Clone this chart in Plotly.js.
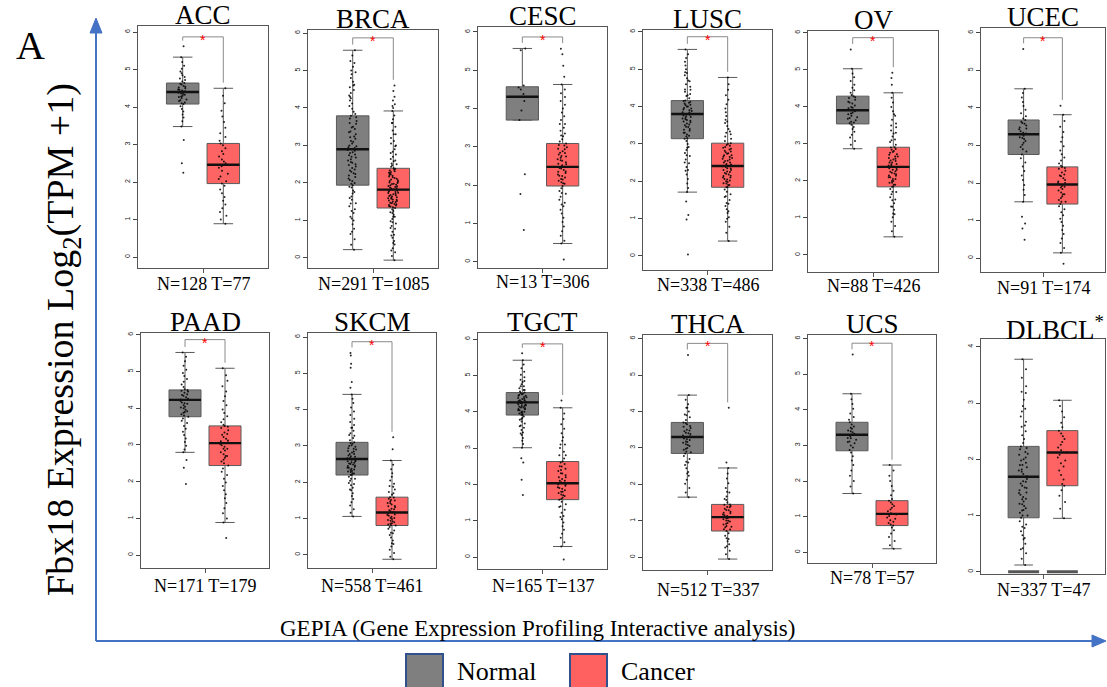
<!DOCTYPE html>
<html><head><meta charset="utf-8">
<script src="https://cdn.plot.ly/plotly-3.0.1.min.js"></script>
<style>html,body{margin:0;padding:0;background:#fff}#chart{width:1107px;height:687px}</style>
</head><body><div id="chart"></div>
<script>
// ---------------- DATA ----------------
const cancers = ['ACC','BRCA','CESC','LUSC','OV','UCEC','PAAD','SKCM','TGCT','THCA','UCS','DLBCL'];
const normalCounts = [128,291,13,338,88,91,171,558,165,512,78,337];
const tumorCounts  = [77,1085,306,486,426,174,179,461,137,337,57,47];
const significant  = [true,true,true,true,true,true,true,true,true,true,true,false];

const normalQ1     = [4.08,1.94,3.70,3.14,3.54,2.76,3.77,2.20,3.91,2.85,2.85,0.96];
const normalMedian = [4.40,2.90,4.31,3.80,3.91,3.30,4.23,2.64,4.26,3.30,3.30,1.69];
const normalQ3     = [4.64,3.79,4.57,4.16,4.29,3.68,4.50,3.10,4.53,3.70,3.65,2.23];
const normalLower  = [3.48,0.22,3.70,1.71,2.87,1.50,2.80,1.06,3.01,1.65,1.65,0.12];
const normalUpper  = [5.33,5.54,5.57,5.53,5.03,4.51,5.52,4.42,5.42,4.45,4.45,3.78];

const tumorQ1      = [1.96,1.33,1.98,1.84,1.84,1.44,2.44,0.81,1.58,0.72,0.75,1.53];
const tumorMedian  = [2.46,1.82,2.48,2.41,2.38,1.96,3.05,1.17,2.03,1.10,1.08,2.12];
const tumorQ3      = [3.03,2.39,3.09,3.02,2.91,2.43,3.52,1.59,2.63,1.45,1.45,2.51];
const tumorLower   = [0.89,-0.06,0.48,0.40,0.49,0.14,0.89,-0.12,0.29,-0.05,0.10,0.95];
const tumorUpper   = [4.50,3.92,4.63,4.78,4.38,3.82,5.09,2.60,4.11,2.45,2.45,3.05];

const dlbclFloor = [0, 0];

// sample points
const ptsAccN = [5.62,5.33,5.2,5.1,5.02,4.95,4.9,4.85,4.8,4.76,4.72,4.68,4.64,4.6,4.56,4.52,4.5,4.47,4.44,4.42,4.4,4.38,4.36,4.33,4.3,4.27,4.24,4.2,4.16,4.12,4.08,4.02,3.95,3.88,3.8,3.72,3.62,3.48,3.12,2.5,2.25,4.62,4.54,4.46,4.41,4.35,4.28,4.18,4.1];
const ptsAccT = [4.5,4.3,4.1,3.9,3.75,3.6,3.45,3.3,3.2,3.1,3.03,2.98,2.9,2.82,2.75,2.68,2.6,2.55,2.5,2.46,2.42,2.38,2.3,2.22,2.15,2.08,2.02,1.96,1.9,1.8,1.7,1.6,1.5,1.4,1.3,1.2,1.1,1.0,0.89];
const ptsBrcaN = [5.54,5.4,5.25,5.1,5.0,4.9,4.8,4.7,4.62,4.55,4.48,4.4,4.33,4.26,4.2,4.12,4.05,3.98,3.9,3.84,3.79,3.72,3.65,3.58,3.5,3.44,3.37,3.3,3.24,3.18,3.1,3.05,2.98,2.93,2.9,2.86,2.8,2.74,2.68,2.6,2.54,2.48,2.4,2.33,2.26,2.2,2.12,2.05,1.98,1.94,1.88,1.8,1.72,1.64,1.55,1.46,1.38,1.3,1.2,1.1,1.0,0.9,0.78,0.64,0.5,0.35,0.22,
  3.75,3.6,3.48,3.35,3.22,3.12,3.0,2.95,2.88,2.82,2.76,2.7,2.63,2.56,2.5,2.44,2.36,2.3,2.24,2.16,2.08,2.0,1.9,1.76,1.6,1.45,1.25,4.3,4.6,4.95,5.2,1.05,0.7];
const ptsBrcaT = [4.6,4.45,4.3,4.2,4.1,4.05,4.0,3.92,3.8,3.7,3.6,3.5,3.4,3.3,3.2,3.12,3.05,2.98,2.9,2.83,2.76,2.7,2.64,2.58,2.52,2.47,2.43,2.39,2.35,2.31,2.27,2.23,2.19,2.15,2.11,2.07,2.03,2.0,1.97,1.94,1.91,1.88,1.85,1.82,1.79,1.76,1.73,1.7,1.67,1.64,1.61,1.58,1.55,1.52,1.49,1.46,1.43,1.4,1.37,1.33,1.29,1.25,1.2,1.15,1.1,1.04,0.98,0.92,0.85,0.78,0.7,0.62,0.54,0.45,0.36,0.26,0.15,0.05,-0.06,
  2.38,2.33,2.29,2.25,2.21,2.17,2.13,2.09,2.05,2.01,1.98,1.95,1.92,1.89,1.86,1.83,1.8,1.77,1.74,1.71,1.68,1.65,1.62,1.59,1.56,1.53,1.5,1.47,1.44,1.41,1.38,1.35,2.5,2.6,2.8,3.0,1.22,1.1,0.95,0.8,0.6,0.4,0.2,3.3,3.6];
const ptsCescN = [5.57,5.52,4.6,4.55,4.5,4.38,4.31,4.2,3.95,3.7,2.29,1.77,0.83];
const ptsCescT = [5.56,5.42,5.12,4.83,4.63,4.5,4.4,4.3,4.2,4.1,4.0,3.9,3.8,3.7,3.6,3.5,3.42,3.35,3.28,3.2,3.14,3.09,3.04,2.99,2.94,2.89,2.84,2.8,2.76,2.72,2.68,2.64,2.6,2.56,2.52,2.48,2.44,2.4,2.36,2.32,2.28,2.24,2.2,2.16,2.12,2.08,2.04,1.98,1.92,1.85,1.78,1.7,1.62,1.54,1.45,1.36,1.26,1.15,1.04,0.92,0.8,0.68,0.55,0.48,0.06,
  3.05,2.95,2.85,2.75,2.65,2.55,2.45,2.35,2.25,2.15,2.05,3.3,3.6,1.8,1.5];
const ptsLuscN = [5.53,5.4,5.3,5.2,5.1,5.0,4.92,4.84,4.76,4.68,4.6,4.53,4.46,4.4,4.34,4.28,4.22,4.16,4.12,4.08,4.04,4.0,3.96,3.92,3.88,3.84,3.8,3.76,3.72,3.68,3.64,3.6,3.55,3.5,3.45,3.4,3.35,3.3,3.25,3.2,3.14,3.08,3.0,2.92,2.84,2.76,2.68,2.58,2.48,2.38,2.28,2.18,2.06,1.94,1.82,1.71,1.46,1.1,0.98,0.04,
  4.15,4.1,4.05,4.0,3.95,3.9,3.85,3.8,3.78,3.74,3.7,3.66,3.62,3.58,3.52,3.46,3.38,3.3,3.22,3.15,4.3,4.45,4.7,4.9,2.9,2.7,2.5,2.3];
const ptsLuscT = [4.78,4.6,4.45,4.3,4.18,4.06,3.95,3.85,3.75,3.65,3.56,3.48,3.4,3.33,3.26,3.2,3.14,3.08,3.02,2.97,2.92,2.87,2.82,2.78,2.74,2.7,2.66,2.62,2.58,2.54,2.5,2.46,2.42,2.38,2.34,2.3,2.26,2.22,2.18,2.14,2.1,2.06,2.02,1.98,1.94,1.9,1.84,1.78,1.72,1.65,1.58,1.5,1.42,1.34,1.25,1.15,1.04,0.92,0.78,0.62,0.4,
  3.0,2.95,2.9,2.85,2.8,2.75,2.7,2.65,2.6,2.55,2.5,2.45,2.4,2.35,2.3,2.25,2.2,2.15,2.1,2.05,2.0,1.95,1.9,1.85,3.3,3.6,1.6,1.4,1.2,1.0];
const ptsOvN = [5.55,5.03,4.9,4.8,4.7,4.6,4.52,4.45,4.38,4.32,4.29,4.24,4.19,4.14,4.09,4.04,4.0,3.96,3.92,3.88,3.84,3.8,3.76,3.72,3.68,3.64,3.6,3.56,3.52,3.46,3.4,3.33,3.25,3.17,3.08,2.98,2.87,4.26,4.12,3.98,3.9,3.82,3.7,3.58];
const ptsOvT = [4.92,4.78,4.6,4.38,4.25,4.12,4.0,3.88,3.76,3.65,3.55,3.45,3.36,3.28,3.2,3.12,3.05,2.98,2.91,2.86,2.81,2.76,2.71,2.66,2.62,2.58,2.54,2.5,2.46,2.42,2.38,2.34,2.3,2.26,2.22,2.18,2.14,2.1,2.05,2.0,1.95,1.9,1.84,1.78,1.71,1.64,1.56,1.48,1.4,1.31,1.22,1.12,1.02,0.9,0.78,0.64,0.49,
  2.9,2.84,2.78,2.72,2.66,2.6,2.55,2.5,2.45,2.4,2.35,2.3,2.25,2.2,2.15,2.1,2.05,2.0,1.95,1.9,1.85,3.1,3.3,3.5,3.8,1.7,1.5,1.3,1.1];
const ptsUcecN = [5.57,4.51,4.4,4.28,4.16,4.05,3.95,3.86,3.78,3.72,3.68,3.63,3.58,3.53,3.48,3.43,3.38,3.34,3.3,3.26,3.22,3.17,3.12,3.07,3.02,2.96,2.9,2.84,2.76,2.66,2.55,2.44,2.32,2.2,2.08,1.95,1.82,1.68,1.5,1.1,0.92,0.79,0.49,3.6,3.45,3.32,3.2];
const ptsUcecT = [4.06,3.82,3.65,3.5,3.36,3.22,3.1,2.98,2.87,2.77,2.68,2.6,2.52,2.46,2.43,2.38,2.33,2.28,2.23,2.18,2.13,2.08,2.04,2.0,1.96,1.92,1.88,1.84,1.8,1.75,1.7,1.65,1.6,1.55,1.5,1.44,1.38,1.3,1.22,1.14,1.05,0.96,0.86,0.75,0.64,0.52,0.4,0.27,0.14,-0.15,2.4,2.2,2.0,1.9,1.7,1.5];
const ptsPaadN = [5.52,5.4,5.28,5.16,5.05,4.96,4.88,4.8,4.72,4.65,4.58,4.52,4.5,4.46,4.42,4.38,4.34,4.3,4.26,4.23,4.2,4.16,4.12,4.08,4.04,4.0,3.96,3.92,3.88,3.84,3.8,3.77,3.72,3.66,3.6,3.52,3.44,3.36,3.27,3.18,3.08,2.98,2.88,2.8,2.59,2.38,1.94,4.48,4.36,4.24,4.14,4.02,3.9];
const ptsPaadT = [5.09,4.9,4.75,4.6,4.46,4.33,4.2,4.08,3.97,3.87,3.78,3.7,3.62,3.55,3.52,3.46,3.4,3.34,3.28,3.22,3.17,3.12,3.07,3.03,2.99,2.95,2.9,2.85,2.8,2.75,2.7,2.65,2.6,2.55,2.5,2.44,2.36,2.27,2.18,2.08,1.98,1.88,1.77,1.66,1.55,1.42,1.28,1.14,1.0,0.89,0.47,3.5,3.3,3.1,2.9,2.7];
const ptsSkcmN = [5.56,5.49,5.26,5.15,4.76,4.6,4.42,4.3,4.18,4.06,3.95,3.85,3.75,3.66,3.58,3.5,3.42,3.35,3.28,3.22,3.16,3.1,3.06,3.02,2.98,2.94,2.9,2.86,2.82,2.78,2.74,2.7,2.67,2.64,2.61,2.58,2.55,2.52,2.49,2.46,2.43,2.4,2.37,2.34,2.31,2.28,2.24,2.2,2.15,2.1,2.04,1.98,1.92,1.85,1.78,1.7,1.62,1.54,1.45,1.36,1.26,1.16,1.06,
  3.08,3.0,2.92,2.85,2.78,2.72,2.66,2.62,2.58,2.54,2.5,2.45,2.4,2.35,2.3,2.25,2.21,3.3,3.5,1.95,1.8,2.1];
const ptsSkcmT = [3.24,2.91,2.6,2.48,2.36,2.25,2.15,2.05,1.96,1.88,1.8,1.73,1.66,1.59,1.55,1.51,1.47,1.43,1.39,1.35,1.31,1.27,1.23,1.2,1.17,1.14,1.11,1.08,1.05,1.02,0.99,0.96,0.93,0.9,0.87,0.84,0.81,0.77,0.72,0.67,0.61,0.55,0.48,0.4,0.32,0.23,0.14,0.05,-0.05,-0.12,
  1.58,1.5,1.42,1.34,1.26,1.18,1.1,1.02,0.94,0.86,0.82,1.7,1.9,0.6,0.3];
const ptsTgctN = [5.61,5.42,5.3,5.2,5.1,5.02,4.95,4.88,4.82,4.76,4.7,4.65,4.6,4.56,4.53,4.5,4.47,4.44,4.41,4.38,4.35,4.32,4.3,4.28,4.26,4.24,4.22,4.2,4.18,4.16,4.14,4.12,4.1,4.07,4.04,4.01,3.98,3.95,3.91,3.87,3.83,3.78,3.73,3.68,3.62,3.56,3.5,3.43,3.36,3.28,3.2,3.11,3.01,2.72,2.6,2.13,1.71,
  4.52,4.48,4.44,4.4,4.36,4.32,4.28,4.24,4.2,4.16,4.12,4.08,4.04,4.0,3.96,3.92,4.6,4.7,4.85,3.8,3.6,3.4];
const ptsTgctT = [4.31,4.11,3.95,3.8,3.66,3.53,3.41,3.3,3.2,3.1,3.0,2.9,2.8,2.71,2.63,2.56,2.49,2.43,2.37,2.31,2.25,2.2,2.15,2.1,2.06,2.03,2.0,1.96,1.92,1.88,1.84,1.8,1.76,1.72,1.68,1.63,1.58,1.52,1.45,1.38,1.3,1.22,1.13,1.04,0.95,0.85,0.75,0.64,0.53,0.41,0.29,-0.07,
  2.6,2.5,2.4,2.3,2.2,2.1,2.0,1.9,1.8,1.7,1.6,2.8,3.1,1.4,1.1];
const ptsThcaN = [5.55,4.45,4.32,4.2,4.1,4.0,3.92,3.84,3.77,3.7,3.65,3.6,3.55,3.5,3.46,3.42,3.38,3.34,3.3,3.26,3.22,3.18,3.14,3.1,3.05,3.0,2.95,2.9,2.85,2.78,2.7,2.62,2.53,2.44,2.34,2.24,2.13,2.02,1.9,1.78,1.65,
  3.68,3.58,3.48,3.4,3.32,3.24,3.16,3.08,2.98,2.88,3.9,4.1,2.6,2.3];
const ptsThcaT = [4.1,2.6,2.45,2.3,2.16,2.03,1.9,1.78,1.67,1.57,1.5,1.45,1.41,1.37,1.33,1.29,1.25,1.21,1.17,1.13,1.1,1.07,1.04,1.01,0.98,0.94,0.9,0.86,0.82,0.77,0.72,0.66,0.59,0.52,0.44,0.36,0.27,0.18,0.08,-0.05,
  1.44,1.38,1.3,1.22,1.15,1.08,1.0,0.92,0.84,0.76,1.6,1.8,0.5,0.3];
const ptsUcsN = [5.55,4.45,4.3,4.16,4.03,3.9,3.8,3.72,3.65,3.59,3.53,3.47,3.42,3.37,3.33,3.3,3.26,3.21,3.16,3.11,3.06,3.0,2.94,2.87,2.8,2.7,2.58,2.45,2.3,2.15,2.0,1.85,1.65,3.5,3.4,3.2,3.1];
const ptsUcsT = [2.45,2.3,2.15,2.0,1.86,1.73,1.6,1.5,1.45,1.4,1.35,1.3,1.25,1.2,1.15,1.1,1.06,1.02,0.98,0.94,0.9,0.86,0.82,0.78,0.75,0.7,0.62,0.53,0.43,0.32,0.2,0.1];
const ptsDlbclN = [3.78,3.6,3.45,3.3,3.18,3.06,2.95,2.85,2.76,2.67,2.58,2.5,2.43,2.36,2.29,2.23,2.18,2.13,2.08,2.03,1.98,1.94,1.9,1.86,1.82,1.78,1.74,1.69,1.65,1.61,1.57,1.53,1.49,1.45,1.41,1.37,1.33,1.29,1.25,1.21,1.17,1.13,1.09,1.05,1.0,0.96,0.9,0.84,0.78,0.72,0.65,0.58,0.5,0.42,0.33,0.23,0.12,
  2.2,2.1,2.0,1.9,1.8,1.7,1.6,1.5,1.4,1.3,1.2,1.1,1.0,2.6,2.9,3.2,0.8,0.6,0.4];
const ptsDlbclT = [3.05,2.95,2.85,2.75,2.65,2.57,2.51,2.46,2.41,2.36,2.31,2.26,2.21,2.16,2.12,2.08,2.03,1.98,1.93,1.87,1.8,1.72,1.64,1.56,1.53,1.45,1.35,1.24,1.12,0.95];

const normalPoints = [ptsAccN,ptsBrcaN,ptsCescN,ptsLuscN,ptsOvN,ptsUcecN,ptsPaadN,ptsSkcmN,ptsTgctN,ptsThcaN,ptsUcsN,ptsDlbclN];
const tumorPoints  = [ptsAccT,ptsBrcaT,ptsCescT,ptsLuscT,ptsOvT,ptsUcecT,ptsPaadT,ptsSkcmT,ptsTgctT,ptsThcaT,ptsUcsT,ptsDlbclT];

// ---------------- LAYOUT (pixel geometry) ----------------
const W = 1107, H = 687;
const frames = [ // [left, right, top, bottom] in px
  [138,268,26,268],[308,438,30,268],[478,607,27,268],[643,772,30,270],[808,938,31,272],[981,1105,28,272],
  [141,269,333,568],[308,436,333,568],[478,607,333,569],[643,772,335,570],[808,936,335,563],[981,1105,339,574]
];
const yRanges = [[-0.29,6.16],[-0.27,6.08],[-0.16,6.13],[-0.375,6.05],[-0.46,6.05],[-0.37,6.13],
                 [-0.35,6.05],[-0.36,6.11],[-0.33,6.17],[-0.35,6.1],[-0.3,6.1],[-0.04,4.14]];
const labelY = [284,284,282,285,286,288,586,586,586,590,578,590];
const bracketTop = 5.87;

const px = v => v / W;
const py = v => 1 - v / H;

const GRAY = '#7f7f7f', RED = '#ff6464', BLUE = '#4472c4';
const SERIF = 'Liberation Serif, Times New Roman, serif';

const traces = [], shapes = [], annotations = [];
const layout = {
  width: W, height: H, margin: {l:0, r:0, t:0, b:0},
  paper_bgcolor: '#fff', plot_bgcolor: '#fff', showlegend: false, boxmode: 'overlay'
};

cancers.forEach((name, i) => {
  const k = i === 0 ? '' : String(i + 1);
  const xa = 'x' + k, ya = 'y' + k;
  const [L, R, T, B] = frames[i];
  const isD = name === 'DLBCL';
  layout['xaxis' + k] = {
    domain: [px(L), px(R)], anchor: ya, range: [-1.1, 2.1],
    showgrid: false, zeroline: false, showline: true, mirror: true, linecolor: '#555', linewidth: 1,
    tickvals: [0.5], ticktext: [' '], ticks: 'outside', ticklen: 4, tickcolor: '#555', showticklabels: false, fixedrange: true
  };
  layout['yaxis' + k] = {
    domain: [py(B), py(T)], anchor: xa, range: yRanges[i],
    showgrid: false, zeroline: false, showline: true, mirror: true, linecolor: '#555', linewidth: 1,
    tickmode: 'linear', tick0: 0, dtick: 1, ticks: 'outside', ticklen: 4, tickcolor: '#444',
    tickangle: -90, tickfont: {family: 'Liberation Sans, Arial', size: 7, color: '#222'}, fixedrange: true
  };
  const groups = [
    {pos: 0, fill: GRAY, q1: normalQ1[i], med: normalMedian[i], q3: normalQ3[i], lo: normalLower[i], hi: normalUpper[i], pts: normalPoints[i]},
    {pos: 1, fill: RED,  q1: tumorQ1[i],  med: tumorMedian[i],  q3: tumorQ3[i],  lo: tumorLower[i],  hi: tumorUpper[i],  pts: tumorPoints[i]}
  ];
  groups.forEach(g => {
    traces.push({type: 'box', xaxis: xa, yaxis: ya, x: [g.pos], q1: [g.q1], median: [g.med], q3: [g.q3],
      lowerfence: [g.lo], upperfence: [g.hi], width: 0.8, whiskerwidth: 0.6, boxpoints: false,
      fillcolor: g.fill, line: {color: '#5a5a5a', width: 1}, hoverinfo: 'skip'});
    traces.push({type: 'box', xaxis: xa, yaxis: ya, x0: g.pos, y: g.pts, width: 0.8, boxpoints: 'all',
      jitter: 0.32, pointpos: 0, fillcolor: 'rgba(0,0,0,0)', line: {color: 'rgba(0,0,0,0)', width: 0},
      marker: {color: 'rgba(0,0,0,0.85)', size: 2}, hoverinfo: 'skip'});
    traces.push({type: 'box', xaxis: xa, yaxis: ya, x: [g.pos], q1: [g.med], median: [g.med], q3: [g.med],
      lowerfence: [g.med], upperfence: [g.med], width: 0.8, whiskerwidth: 0, boxpoints: false,
      fillcolor: 'rgba(0,0,0,0)', line: {color: '#111', width: 2.4}, hoverinfo: 'skip'});
  });
  if (isD) {
    dlbclFloor.forEach((v, j) => {
      traces.push({type: 'box', xaxis: xa, yaxis: ya, x: [j], q1: [v], median: [v], q3: [v],
        lowerfence: [v], upperfence: [v], width: 0.8, whiskerwidth: 0, boxpoints: false,
        fillcolor: 'rgba(0,0,0,0)', line: {color: '#555', width: 3}, hoverinfo: 'skip'});
    });
  }
  if (significant[i]) {
    const dropN = Math.min(Math.max(...normalPoints[i]) + 0.15, bracketTop - 0.1);
    const dropT = Math.min(Math.max(...tumorPoints[i]) + 0.15, bracketTop - 0.1);
    const ln = {color: '#8a8a8a', width: 1};
    shapes.push({type: 'line', xref: xa, yref: ya, x0: 0, x1: 1, y0: bracketTop, y1: bracketTop, line: ln});
    shapes.push({type: 'line', xref: xa, yref: ya, x0: 0, x1: 0, y0: bracketTop, y1: dropN, line: ln});
    shapes.push({type: 'line', xref: xa, yref: ya, x0: 1, x1: 1, y0: bracketTop, y1: dropT, line: ln});
    annotations.push({xref: xa, yref: ya, x: 0.5, y: bracketTop, text: '*', showarrow: false,
      font: {family: 'Liberation Sans, Arial', size: 14, color: '#ff0000'}, yanchor: 'middle', yshift: -3});
  }
  // panel title
  annotations.push({xref: 'paper', yref: 'paper', x: px(isD ? 1055 : (L + R) / 2), y: py(T - 11),
    xanchor: 'center', yanchor: 'middle', showarrow: false,
    text: isD ? name + '<sup>*</sup>' : name, font: {family: SERIF, size: 27, color: '#000'}});
  // sample sizes
  annotations.push({xref: 'paper', yref: 'paper', x: px((L + R) / 2), y: py(labelY[i]),
    xanchor: 'center', yanchor: 'middle', showarrow: false,
    text: 'N=' + normalCounts[i] + ' T=' + tumorCounts[i], font: {family: SERIF, size: 18, color: '#000'}});
});

// blue axis arrows
const blue = {color: BLUE, width: 2};
shapes.push({type: 'line', xref: 'paper', yref: 'paper', x0: px(96), x1: px(96), y0: py(641), y1: py(30), line: blue});
shapes.push({type: 'path', xref: 'paper', yref: 'paper',
  path: `M ${px(90)} ${py(33)} L ${px(96)} ${py(18)} L ${px(102)} ${py(33)} Z`, fillcolor: BLUE, line: {color: BLUE, width: 1}});
shapes.push({type: 'line', xref: 'paper', yref: 'paper', x0: px(96), x1: px(1094), y0: py(641), y1: py(641), line: blue});
shapes.push({type: 'path', xref: 'paper', yref: 'paper',
  path: `M ${px(1092)} ${py(635)} L ${px(1106)} ${py(641)} L ${px(1092)} ${py(647)} Z`, fillcolor: BLUE, line: {color: BLUE, width: 1}});

// legend
const legBorder = {color: '#2f528f', width: 2};
shapes.push({type: 'rect', xref: 'paper', yref: 'paper', x0: px(406), x1: px(443), y0: py(654), y1: py(690), fillcolor: GRAY, line: legBorder});
shapes.push({type: 'rect', xref: 'paper', yref: 'paper', x0: px(570), x1: px(607), y0: py(654), y1: py(690), fillcolor: '#ff6161', line: legBorder});
annotations.push({xref: 'paper', yref: 'paper', x: px(455), y: py(671), xanchor: 'left', yanchor: 'middle', showarrow: false,
  text: 'Normal', font: {family: SERIF, size: 26, color: '#000'}});
annotations.push({xref: 'paper', yref: 'paper', x: px(619), y: py(671), xanchor: 'left', yanchor: 'middle', showarrow: false,
  text: 'Cancer', font: {family: SERIF, size: 26, color: '#000'}});

// source text, y title, panel letter
annotations.push({xref: 'paper', yref: 'paper', x: px(537), y: py(628), xanchor: 'center', yanchor: 'middle', showarrow: false,
  text: 'GEPIA (Gene Expression Profiling Interactive analysis)', font: {family: SERIF, size: 23, color: '#000'}});
annotations.push({xref: 'paper', yref: 'paper', x: px(63), y: py(340), xanchor: 'center', yanchor: 'middle', showarrow: false,
  textangle: -90, text: 'Fbx18 Expression Log<sub>2</sub>(TPM +1)', font: {family: SERIF, size: 38, color: '#000'}});
annotations.push({xref: 'paper', yref: 'paper', x: px(30), y: py(46), xanchor: 'center', yanchor: 'middle', showarrow: false,
  text: 'A', font: {family: SERIF, size: 40, color: '#000'}});

layout.shapes = shapes;
layout.annotations = annotations;
Plotly.newPlot('chart', traces, layout, {staticPlot: true, displayModeBar: false});
</script></body></html>
